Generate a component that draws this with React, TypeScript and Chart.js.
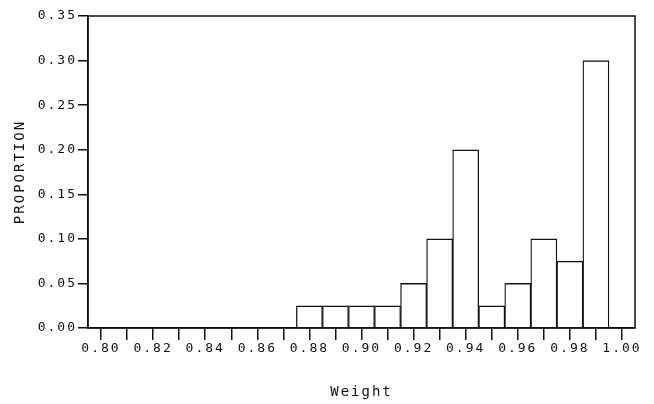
import React, { useEffect, useRef } from "react";
import { Chart, registerables } from "chart.js";

Chart.register(...registerables);

// Bin centres (Weight) and proportions
const binCenters = [0.88, 0.89, 0.9, 0.91, 0.92, 0.93, 0.94, 0.95, 0.96, 0.97, 0.98, 0.99];
const proportions = [0.025, 0.025, 0.025, 0.025, 0.05, 0.1, 0.2, 0.025, 0.05, 0.1, 0.075, 0.3];

// X axis tick marks (every 0.01) and their labels (every 0.02)
const xTickValues = [
  0.8, 0.81, 0.82, 0.83, 0.84, 0.85, 0.86, 0.87, 0.88, 0.89, 0.9,
  0.91, 0.92, 0.93, 0.94, 0.95, 0.96, 0.97, 0.98, 0.99, 1.0,
];
const xTickLabels = [
  "0.80", "", "0.82", "", "0.84", "", "0.86", "", "0.88", "", "0.90",
  "", "0.92", "", "0.94", "", "0.96", "", "0.98", "", "1.00",
];
const xMin = 0.795;
const xMax = 1.005;

// Y axis ticks
const yTickValues = [0, 0.05, 0.1, 0.15, 0.2, 0.25, 0.3, 0.35];
const yTickLabels = ["0.00", "0.05", "0.10", "0.15", "0.20", "0.25", "0.30", "0.35"];

const FONT = "'DejaVu Sans Mono', 'Liberation Mono', monospace";
const INK = "#111111";

const spacingPlugin = {
  id: "letterSpacing",
  beforeLayout(chart: any) {
    chart.ctx.letterSpacing = "2px";
  },
  beforeDraw(chart: any) {
    chart.ctx.letterSpacing = "2px";
  },
};

const framePlugin = {
  id: "frame",
  afterDatasetsDraw(chart: any) {
    const { ctx, chartArea } = chart;
    ctx.save();
    ctx.strokeStyle = INK;
    ctx.lineWidth = 1.5;
    ctx.strokeRect(chartArea.left, chartArea.top, chartArea.right - chartArea.left, chartArea.bottom - chartArea.top);
    ctx.restore();
  },
};

export default function App() {
  const canvasRef = useRef<HTMLCanvasElement | null>(null);

  useEffect(() => {
    if (!canvasRef.current) return;
    const chart = new Chart(canvasRef.current, {
      type: "bar",
      data: {
        datasets: [
          {
            data: binCenters.map((x, i) => ({ x, y: proportions[i] })),
            backgroundColor: "#ffffff",
            borderColor: INK,
            borderWidth: { top: 1.5, left: 1.3, right: 1.3, bottom: 0 },
            barPercentage: 1,
            categoryPercentage: 1,
          },
        ],
      },
      options: {
        responsive: false,
        animation: false,
        layout: { padding: { top: 16, right: 19, left: 0, bottom: 0 } },
        plugins: {
          legend: { display: false },
          tooltip: { enabled: false },
        },
        scales: {
          x: {
            type: "linear",
            min: xMin,
            max: xMax,
            offset: false,
            afterBuildTicks(scale: any) {
              scale.ticks = xTickValues.map((v) => ({ value: v }));
            },
            afterFit(scale: any) {
              scale.height = 76;
            },
            ticks: {
              autoSkip: false,
              maxRotation: 0,
              minRotation: 0,
              padding: 1,
              color: INK,
              font: { family: FONT, size: 13 },
              callback: (_v: any, i: number) => xTickLabels[i],
            },
            grid: {
              display: true,
              offset: false,
              drawOnChartArea: false,
              drawTicks: true,
              tickLength: 12,
              color: INK,
              lineWidth: 1.5,
            },
            border: { display: true, color: INK, width: 1.5 },
            title: {
              display: true,
              text: "Weight",
              color: INK,
              font: { family: FONT, size: 14 },
              padding: { top: 0, bottom: 3 },
            },
          },
          y: {
            type: "linear",
            min: 0,
            max: 0.35,
            afterBuildTicks(scale: any) {
              scale.ticks = yTickValues.map((v) => ({ value: v }));
            },
            afterFit(scale: any) {
              scale.width = 88;
            },
            ticks: {
              padding: 1,
              color: INK,
              font: { family: FONT, size: 13 },
              callback: (_v: any, i: number) => yTickLabels[i],
            },
            grid: {
              display: true,
              drawOnChartArea: false,
              drawTicks: true,
              tickLength: 10,
              color: INK,
              lineWidth: 1.5,
            },
            border: { display: true, color: INK, width: 1.5 },
            title: {
              display: true,
              text: "PROPORTION",
              color: INK,
              font: { family: FONT, size: 14 },
              padding: { top: 12, bottom: 0 },
            },
          },
        },
      },
      plugins: [spacingPlugin, framePlugin],
    });
    return () => chart.destroy();
  }, []);

  return (
    <div style={{ position: "fixed", left: 0, top: 0, width: 654, height: 404, background: "#fff" }}>
      <canvas ref={canvasRef} width={654} height={404} style={{ display: "block" }} />
    </div>
  );
}
